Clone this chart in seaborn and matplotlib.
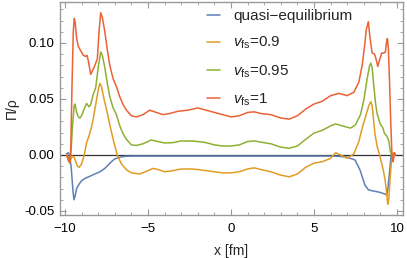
import numpy as np
import pandas as pd
import matplotlib
matplotlib.use("Agg")
import matplotlib.pyplot as plt
import seaborn as sns
from matplotlib.ticker import MultipleLocator, FormatStrFormatter

# quasi-equilibrium
x_qe = [-9.9, -9.8, -9.72, -9.62, -9.52, -9.46, -9.38, -9.3, -9.15, -9.0, -8.8,
        -8.5, -8.2, -7.9, -7.6, -7.4, -7.2, -7.0, -6.7, -6.4, -6.0, -4.0, -2.0,
        0.0, 2.0, 4.0, 6.0, 6.5, 7.0, 7.47, 7.77, 8.07, 8.27, 8.5, 8.87, 9.1,
        9.3, 9.38, 9.45, 9.55, 9.64, 9.72, 9.8, 9.9]
y_qe = [0.001, 0.002, 0.0, -0.012, -0.032, -0.040, -0.036, -0.030, -0.026,
        -0.023, -0.021, -0.019, -0.017, -0.015, -0.012, -0.009, -0.006, -0.0035,
        -0.002, -0.0012, -0.001, -0.001, -0.001, -0.001, -0.001, -0.001, -0.001,
        -0.0012, -0.002, -0.0045, -0.0134, -0.027, -0.031, -0.032, -0.033,
        -0.034, -0.035, -0.036, -0.030, -0.015, -0.001, 0.001, 0.0, 0.0]

# v_fs = 0.9
x_09 = [-9.9, -9.8, -9.72, -9.65, -9.55, -9.45, -9.35, -9.25, -9.14, -9.0,
        -8.84, -8.7, -8.6, -8.5, -8.4, -8.3, -8.15, -8.0, -7.9, -7.8, -7.65,
        -7.49, -7.3, -7.09, -6.85, -6.6, -6.28, -6.0, -5.5, -5.0, -4.7, -4.4,
        -4.0, -3.5, -3.0, -2.4, -2.0, -1.5, -1.0, -0.5, 0.0, 0.5, 1.0, 1.4, 1.8,
        2.4, 3.0, 3.5, 4.0, 4.5, 5.0, 5.5, 6.0, 6.3, 6.6, 7.0, 7.4, 7.7, 7.9,
        8.1, 8.3, 8.42, 8.5, 8.67, 8.8, 8.98, 9.15, 9.28, 9.36, 9.44, 9.5, 9.58,
        9.65, 9.72, 9.8, 9.9]
y_09 = [0.0, -0.005, -0.007, -0.004, -0.001, -0.002, -0.006, -0.010, -0.011,
        -0.008, 0.0, 0.011, 0.015, 0.0196, 0.025, 0.032, 0.045, 0.058, 0.064,
        0.061, 0.050, 0.040, 0.027, 0.0134, 0.0, -0.008, -0.0134, -0.016,
        -0.017, -0.014, -0.012, -0.013, -0.015, -0.014, -0.0125, -0.0125,
        -0.013, -0.014, -0.015, -0.016, -0.016, -0.015, -0.0125, -0.0115,
        -0.013, -0.015, -0.018, -0.0195, -0.017, -0.011, -0.0073, -0.006,
        -0.003, 0.002, 0.0, -0.003, 0.001, 0.012, 0.024, 0.034, 0.044, 0.0476,
        0.044, 0.019, 0.008, -0.002, -0.012, -0.022, -0.032, -0.044, -0.040,
        -0.022, -0.008, 0.001, 0.002, 0.0]

# v_fs = 0.95
x_095 = [-9.9, -9.8, -9.72, -9.65, -9.55, -9.45, -9.4, -9.3, -9.2, -9.1, -9.0,
         -8.85, -8.7, -8.55, -8.45, -8.3, -8.15, -8.0, -7.85, -7.75, -7.6,
         -7.45, -7.3, -7.1, -6.9, -6.7, -6.5, -6.3, -6.0, -5.7, -5.3, -4.8,
         -4.4, -4.0, -3.5, -3.0, -2.4, -2.0, -1.5, -1.0, -0.5, 0.0, 0.5, 1.0,
         1.4, 1.8, 2.4, 3.0, 3.5, 4.0, 4.5, 5.0, 5.5, 6.0, 6.3, 6.7, 7.2, 7.5,
         7.8, 8.0, 8.2, 8.35, 8.42, 8.5, 8.6, 8.7, 8.8, 8.98, 9.15, 9.25, 9.38,
         9.5, 9.58, 9.66, 9.72, 9.8, 9.9]
y_095 = [0.0, -0.002, -0.004, 0.0, 0.025, 0.044, 0.0455, 0.038, 0.034, 0.033,
         0.035, 0.041, 0.046, 0.043, 0.045, 0.054, 0.060, 0.078, 0.092, 0.089,
         0.078, 0.064, 0.052, 0.042, 0.036, 0.026, 0.019, 0.014, 0.009, 0.0085,
         0.010, 0.0134, 0.012, 0.0107, 0.011, 0.0125, 0.0125, 0.012, 0.011,
         0.009, 0.008, 0.008, 0.009, 0.012, 0.0125, 0.0115, 0.010, 0.007, 0.006,
         0.008, 0.014, 0.0196, 0.022, 0.026, 0.0277, 0.026, 0.024, 0.027, 0.036,
         0.049, 0.068, 0.080, 0.082, 0.078, 0.062, 0.047, 0.037, 0.028, 0.024,
         0.019, 0.017, 0.013, 0.0045, 0.0, -0.003, 0.001, 0.0]

# v_fs = 1
x_1 = [-9.9, -9.8, -9.72, -9.65, -9.58, -9.5, -9.44, -9.38, -9.3, -9.2, -9.05,
       -8.9, -8.75, -8.67, -8.58, -8.45, -8.35, -8.2, -8.05, -7.95, -7.85,
       -7.75, -7.6, -7.45, -7.3, -7.1, -6.9, -6.7, -6.5, -6.3, -6.0, -5.7, -5.3,
       -4.9, -4.5, -4.1, -3.7, -3.2, -2.6, -2.0, -1.5, -1.0, -0.5, 0.0, 0.5,
       1.0, 1.4, 1.8, 2.4, 3.0, 3.5, 4.0, 4.5, 5.0, 5.5, 6.0, 6.5, 7.0, 7.4,
       7.7, 7.9, 8.05, 8.15, 8.27, 8.37, 8.5, 8.65, 8.75, 8.84, 8.95, 9.08, 9.2,
       9.3, 9.36, 9.42, 9.48, 9.55, 9.62, 9.7, 9.75, 9.8, 9.85, 9.9]
y_1 = [0.0, -0.004, -0.007, 0.005, 0.06, 0.11, 0.122, 0.118, 0.104, 0.097,
       0.093, 0.089, 0.088, 0.089, 0.083, 0.072, 0.075, 0.080, 0.086, 0.110,
       0.127, 0.123, 0.110, 0.094, 0.080, 0.068, 0.061, 0.052, 0.045, 0.040,
       0.035, 0.034, 0.036, 0.040, 0.038, 0.036, 0.037, 0.039, 0.040, 0.042,
       0.040, 0.038, 0.036, 0.034, 0.035, 0.038, 0.0385, 0.037, 0.036, 0.033,
       0.032, 0.035, 0.041, 0.0455, 0.048, 0.053, 0.055, 0.053, 0.056, 0.065,
       0.080, 0.098, 0.112, 0.119, 0.105, 0.091, 0.090, 0.085, 0.079, 0.085,
       0.091, 0.091, 0.092, 0.100, 0.104, 0.095, 0.065, 0.030, -0.002, -0.006,
       -0.003, 0.002, 0.0]

labels = ["quasi\u2212equilibrium", r"$v_{\rm fs}$=0.9", r"$v_{\rm fs}$=0.95",
          r"$v_{\rm fs}$=1"]
colors = ["#5E81B5", "#E19C24", "#8FB032", "#EB6235"]

df = pd.concat([
    pd.DataFrame({"x": x_qe, "y": y_qe, "series": labels[0]}),
    pd.DataFrame({"x": x_09, "y": y_09, "series": labels[1]}),
    pd.DataFrame({"x": x_095, "y": y_095, "series": labels[2]}),
    pd.DataFrame({"x": x_1, "y": y_1, "series": labels[3]}),
], ignore_index=True)

sns.set_style("ticks")
plt.rcParams["font.family"] = ["Liberation Sans", "DejaVu Sans"]
plt.rcParams["mathtext.fontset"] = "custom"
plt.rcParams["mathtext.rm"] = "Liberation Sans"
plt.rcParams["mathtext.it"] = "Liberation Sans:italic"

fig = plt.figure(figsize=(4.07, 2.58), dpi=100)
ax = fig.add_axes([60 / 407, 1 - 215 / 258, 343 / 407, 213 / 258])

ax.axhline(0, color="#333333", lw=0.9, zorder=1)
sns.lineplot(data=df, x="x", y="y", hue="series", hue_order=labels,
             palette=colors, sort=False, estimator=None, lw=1.1, ax=ax,
             zorder=2)

ax.set_xlim(-10.3, 10.36)
ax.set_ylim(-0.0536, 0.1366)
ax.xaxis.set_major_locator(MultipleLocator(5))
ax.xaxis.set_minor_locator(MultipleLocator(1))
ax.yaxis.set_major_locator(MultipleLocator(0.05))
ax.yaxis.set_minor_locator(MultipleLocator(0.01))
ax.yaxis.set_major_formatter(FormatStrFormatter("%.2f"))
ax.tick_params(which="both", direction="in", top=True, right=True,
               color="#999999", labelsize=9.5, labelcolor="black")
ax.tick_params(axis="x", which="major", pad=6)
ax.tick_params(axis="y", which="major", pad=4)
ax.tick_params(which="major", length=4.5, width=0.8)
ax.tick_params(which="minor", length=2.5, width=0.6)
for s in ax.spines.values():
    s.set_color("#999999")
    s.set_linewidth(1.0)

ax.set_xlabel("x [fm]", fontsize=10, labelpad=6)
ax.set_ylabel("\u03a0/\u03c1", fontsize=10, labelpad=4)

ax.legend(loc="upper left", bbox_to_anchor=(207 / 407, 1 - 9 / 258),
          bbox_transform=fig.transFigure, frameon=False, fontsize=11,
          handlelength=0.85, handletextpad=0.85, labelspacing=0.78,
          borderaxespad=0, borderpad=0)

fig.savefig("out.png", dpi=100)
